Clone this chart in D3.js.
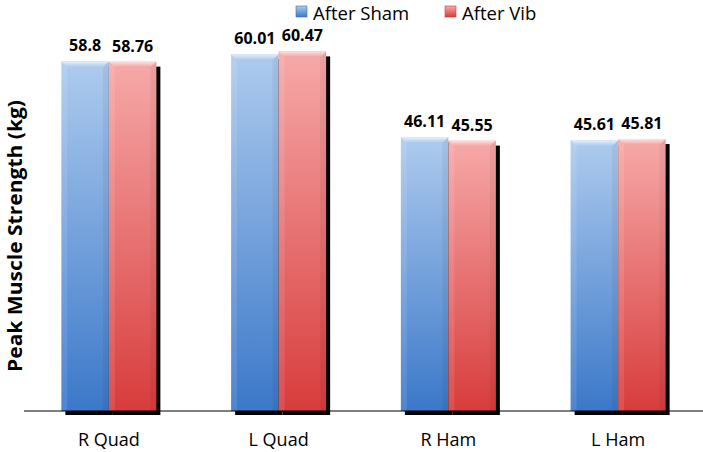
<!DOCTYPE html>
<html><head><meta charset="utf-8">
<script src="https://cdn.jsdelivr.net/npm/d3@7"></script>
<style>body{margin:0;background:#fff}svg{display:block}</style>
</head><body>
<script>
const categories = ["R Quad", "L Quad", "R Ham", "L Ham"];
const seriesNames = ["After Sham", "After Vib"];
const afterSham = [58.8, 60.01, 46.11, 45.61];
const afterVib = [58.76, 60.47, 45.55, 45.81];
const valueLabels = [["58.8","58.76"],["60.01","60.47"],["46.11","45.55"],["45.61","45.81"]];

const W = 703, H = 452;
const svg = d3.select("body").append("svg").attr("width", W).attr("height", H);
const defs = svg.append("defs");
function grad(id, top, bot){
  const g = defs.append("linearGradient").attr("id", id).attr("x1",0).attr("x2",0).attr("y1",0).attr("y2",1);
  g.append("stop").attr("offset","0%").attr("stop-color",top);
  g.append("stop").attr("offset","100%").attr("stop-color",bot);
}
grad("gBlue", "#aecbee", "#3b78c9");
grad("gRed", "#f7a9a9", "#d83c3c");
grad("gBlueTop", "#e6f0fc", "#a8c7ec");
grad("gRedTop", "#fde0e0", "#f3a0a0");

const baseY = 411;
const y = d3.scaleLinear().domain([0, 70]).range([baseY + 2, baseY + 2 - 70 * 5.98]);
const x0 = d3.scaleBand().domain(categories).range([24, 703]).paddingInner(0).paddingOuter(0);
const x1 = d3.scaleBand().domain(seriesNames).range([0, 95]);
const cols = ["Blue", "Red"];
const data = categories.map((c, i) => ({c, vals: [afterSham[i], afterVib[i]], labels: valueLabels[i]}));

const gcat = svg.selectAll("g.cat").data(data).join("g").attr("class","cat")
  .attr("transform", d => `translate(${x0(d.c) + x0.bandwidth()/2 - 47.5},0)`);

gcat.each(function(d){
  const g = d3.select(this);
  d.vals.forEach((v, j) => {
    const xx = x1(seriesNames[j]);
    g.append("rect").attr("x", xx + 4).attr("y", y(v) + 5).attr("width", x1.bandwidth())
      .attr("height", baseY + 4 - (y(v) + 5)).attr("fill", "#000");
  });
});
svg.append("line").attr("x1", 24).attr("x2", 703).attr("y1", baseY).attr("y2", baseY)
  .attr("stroke", "#000").attr("stroke-width", 1.2);

gcat.each(function(d){
  const g = d3.select(this);
  d.vals.forEach((v, j) => {
    const xx = x1(seriesNames[j]), w = x1.bandwidth(), top = y(v);
    g.append("rect").attr("x", xx).attr("y", top).attr("width", w).attr("height", baseY - top)
      .attr("fill", `url(#g${cols[j]})`);
    g.append("path").attr("d", `M${xx},${top} L${xx+w},${top} L${xx+w-6},${top+6} L${xx+6},${top+6} Z`)
      .attr("fill", `url(#g${cols[j]}Top)`);
    g.append("path").attr("d", `M${xx},${top} L${xx+6},${top+6} L${xx+6},${baseY} L${xx},${baseY} Z`)
      .attr("fill", "#fff").attr("opacity", 0.1);
    g.append("path").attr("d", `M${xx+w},${top} L${xx+w-6},${top+6} L${xx+w-6},${baseY} L${xx+w},${baseY} Z`)
      .attr("fill", "#000").attr("opacity", 0.05);
    g.append("text").attr("x", xx + w/2).attr("y", top - 10).attr("text-anchor","middle")
      .attr("font-family","Open Sans, sans-serif").attr("font-weight","bold").attr("font-size", 16)
      .text(d.labels[j]);
  });
});

svg.selectAll("text.cl").data(categories).join("text").attr("class","cl")
  .attr("x", d => x0(d) + x0.bandwidth()/2).attr("y", 446).attr("text-anchor","middle")
  .attr("font-family","Open Sans, sans-serif").attr("font-size", 18).text(d => d);

svg.append("text").attr("transform","translate(22,236) rotate(-90)").attr("text-anchor","middle")
  .attr("font-family","Open Sans, sans-serif").attr("font-weight","bold").attr("font-size", 19)
  .attr("textLength", 272).attr("lengthAdjust","spacingAndGlyphs")
  .text("Peak Muscle Strength (kg)");

const leg = svg.append("g");
const legX = [296, 445];
seriesNames.forEach((s, j) => {
  leg.append("rect").attr("x", legX[j]).attr("y", 6).attr("width", 11).attr("height", 11)
    .attr("fill", `url(#g${cols[j]})`).attr("stroke", j ? "#c04040" : "#3a6fb8").attr("stroke-width", 0.6);
  leg.append("text").attr("x", legX[j] + 17).attr("y", 20).attr("font-family","Open Sans, sans-serif")
    .attr("font-size", 18.5).text(s);
});
</script>
</body></html>
